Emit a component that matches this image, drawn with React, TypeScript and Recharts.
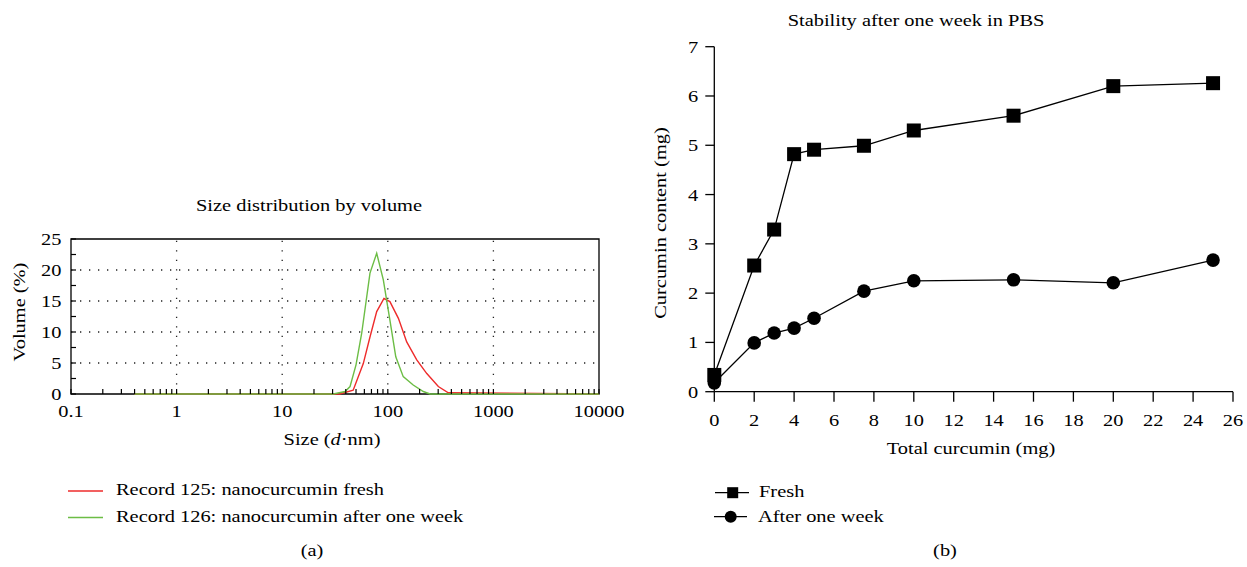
import React from 'react';
import { LineChart, Line, XAxis, YAxis, ReferenceLine, ReferenceArea } from 'recharts';

const FONT = '"Liberation Serif", "Times New Roman", serif';
const STRETCH = 1.2; // the figure's type is set wide

// (a) size distribution by volume
const freshSizes = [0.4, 35, 47, 58.6, 67.8, 78.5, 92, 104.7, 126, 151, 188, 234, 301, 374, 10000];
const freshVolumes = [0, 0, 0.6, 4.9, 9.2, 13.3, 15.4, 14.9, 12.2, 8.4, 5.5, 3.3, 1.2, 0.2, 0];
const weekSizes = [0.4, 30.5, 39.4, 43.9, 50, 56.6, 67.8, 78.5, 90.7, 104.7, 119, 140, 174, 217, 251, 10000];
const weekVolumes = [0, 0, 0.4, 1.2, 4.7, 9.8, 19.5, 22.7, 18.4, 11.9, 6.0, 2.8, 1.45, 0.4, 0, 0];
const sizeTicks = [0.1, 1, 10, 100, 1000, 10000];
const sizeMinorSteps = [2, 3, 4, 5, 6, 7, 8, 9];
const sizeGrid = [1, 10, 100, 1000];
const volumeTicks = [0, 5, 10, 15, 20, 25];
const volumeMinorTicks = [2.5, 7.5, 12.5, 17.5, 22.5];
const volumeGrid = [5, 10, 15, 20];

// (b) stability after one week in PBS
const totalCurcumin = [0, 2, 3, 4, 5, 7.5, 10, 15, 20, 25];
const freshContent = [0.34, 2.56, 3.29, 4.82, 4.91, 4.99, 5.3, 5.6, 6.2, 6.26];
const weekContent = [0.18, 0.99, 1.19, 1.29, 1.49, 2.04, 2.25, 2.27, 2.21, 2.67];
const totalTicks = [0, 2, 4, 6, 8, 10, 12, 14, 16, 18, 20, 22, 24, 26];
const contentTicks = [0, 1, 2, 3, 4, 5, 6, 7];

const freshData = freshSizes.map((s, i) => ({ size: s, vol: freshVolumes[i] }));
const weekData = weekSizes.map((s, i) => ({ size: s, vol: weekVolumes[i] }));
const sizeMinorTicks = sizeTicks.slice(0, -1).flatMap((d) => sizeMinorSteps.map((m) => d * m));
const stabilityData = totalCurcumin.map((t, i) => ({ total: t, fresh: freshContent[i], week: weekContent[i] }));

function SText({ x, y, anchor, children }: any) {
  return (
    <text
      transform={`translate(${x},${y}) scale(${STRETCH},1)`}
      textAnchor={anchor}
      fontSize={17}
      fontFamily={FONT}
      fill="#000"
    >
      {children}
    </text>
  );
}

function SizeTick({ x, y, payload }: any) {
  const major = sizeTicks.includes(payload.value);
  return (
    <g>
      <line x1={x} x2={x} y1={y} y2={y - 5} stroke="#000" strokeWidth={1.2} />
      {major && <SText x={x} y={y + 22.6} anchor="middle">{payload.value}</SText>}
    </g>
  );
}

function VolumeTick({ x, y, payload }: any) {
  const major = volumeTicks.includes(payload.value);
  return (
    <g>
      <line x1={x} x2={x + 5} y1={y} y2={y} stroke="#000" strokeWidth={1.2} />
      {major && <SText x={x - 9.5} y={y + 5.6} anchor="end">{payload.value}</SText>}
    </g>
  );
}

function TotalTick({ x, y, payload }: any) {
  return <SText x={x} y={y + 24} anchor="middle">{payload.value}</SText>;
}

function ContentTick({ x, y, payload }: any) {
  return <SText x={x} y={y + 6} anchor="end">{payload.value}</SText>;
}

const SquareDot = ({ cx, cy, index }: any) => (
  <rect key={`s${index}`} x={cx - 7} y={cy - 7} width={14} height={14} fill="#000" />
);
const CircleDot = ({ cx, cy, index }: any) => <circle key={`c${index}`} cx={cx} cy={cy} r={6.8} fill="#000" />;

function Label({ x, y, rotate, left, children }: any) {
  return (
    <div
      style={{
        position: 'absolute',
        left: x,
        top: y,
        transform: `translate(${left ? '0' : '-50%'},-50%) ${rotate ? 'rotate(-90deg) ' : ''}scaleX(${STRETCH})`,
        transformOrigin: left ? 'left center' : 'center',
        whiteSpace: 'nowrap',
        fontSize: 17,
        lineHeight: '20px',
        color: '#000',
      }}
    >
      {children}
    </div>
  );
}

export default function App() {
  return (
    <div
      style={{
        position: 'absolute',
        left: 0,
        top: 0,
        width: 1247,
        height: 567,
        background: '#fff',
        fontFamily: FONT,
        overflow: 'hidden',
      }}
    >
      <div style={{ position: 'absolute', left: 0, top: 0 }}>
        <LineChart width={640} height={430} margin={{ top: 239, right: 41, bottom: 6, left: 31 }}>
          <XAxis
            dataKey="size"
            type="number"
            scale="log"
            domain={[0.1, 10000]}
            allowDataOverflow
            ticks={[...sizeTicks, ...sizeMinorTicks]}
            interval={0}
            height={30}
            axisLine={false}
            tickLine={false}
            tickSize={0}
            tickMargin={0}
            tick={<SizeTick />}
          />
          <YAxis
            type="number"
            domain={[0, 25]}
            ticks={[...volumeTicks, ...volumeMinorTicks]}
            interval={0}
            width={40}
            axisLine={false}
            tickLine={false}
            tickSize={0}
            tickMargin={0}
            tick={<VolumeTick />}
          />
          {volumeGrid.map((v) => (
            <ReferenceLine key={`h${v}`} y={v} stroke="#222" strokeWidth={1.3} strokeDasharray="1.3 7.7" />
          ))}
          {sizeGrid.map((v) => (
            <ReferenceLine key={`v${v}`} x={v} stroke="#222" strokeWidth={1.3} strokeDasharray="1.3 8.2" />
          ))}
          <ReferenceArea x1={0.1} x2={10000} y1={0} y2={25} fill="none" fillOpacity={0} stroke="#000" strokeWidth={1.3} />
          <Line data={freshData} dataKey="vol" type="linear" stroke="#ee2b2b" strokeWidth={1.4} dot={false} isAnimationActive={false} />
          <Line data={weekData} dataKey="vol" type="linear" stroke="#6cbd45" strokeWidth={1.4} dot={false} isAnimationActive={false} />
        </LineChart>
      </div>

      <Label x={309} y={206}>Size distribution by volume</Label>
      <Label x={20} y={312} rotate>Volume (%)</Label>
      <Label x={332} y={440}>
        Size (<i>d</i>·nm)
      </Label>

      <svg style={{ position: 'absolute', left: 0, top: 0 }} width={120} height={540}>
        <line x1={68} x2={103} y1={491} y2={491} stroke="#ee2b2b" strokeWidth={1.4} />
        <line x1={68} x2={103} y1={517.5} y2={517.5} stroke="#6cbd45" strokeWidth={1.4} />
      </svg>
      <Label x={116} y={490} left>Record 125: nanocurcumin fresh</Label>
      <Label x={116} y={517} left>Record 126: nanocurcumin after one week</Label>
      <Label x={312} y={551}>(a)</Label>

      <div style={{ position: 'absolute', left: 640, top: 0 }}>
        <LineChart width={607} height={440} data={stabilityData} margin={{ top: 46.7, right: 14, bottom: 8.3, left: 34.3 }}>
          <XAxis
            dataKey="total"
            type="number"
            domain={[0, 26]}
            ticks={totalTicks}
            interval={0}
            height={40}
            stroke="#000"
            axisLine={{ stroke: '#000', strokeWidth: 1.3 }}
            tickLine={{ stroke: '#000', strokeWidth: 1.3 }}
            tickSize={10}
            tickMargin={0}
            tick={<TotalTick />}
          />
          <YAxis
            type="number"
            domain={[0, 7]}
            ticks={contentTicks}
            interval={0}
            width={40}
            axisLine={{ stroke: '#000', strokeWidth: 1.3 }}
            tickLine={{ stroke: '#000', strokeWidth: 1.3 }}
            tickSize={9}
            tickMargin={7}
            tick={<ContentTick />}
          />
          <Line dataKey="week" type="linear" stroke="#000" strokeWidth={1.3} dot={<CircleDot />} isAnimationActive={false} />
          <Line dataKey="fresh" type="linear" stroke="#000" strokeWidth={1.3} dot={<SquareDot />} isAnimationActive={false} />
        </LineChart>
      </div>

      <Label x={916} y={21}>Stability after one week in PBS</Label>
      <Label x={661} y={223} rotate>Curcumin content (mg)</Label>
      <Label x={971} y={449}>Total curcumin (mg)</Label>

      <svg style={{ position: 'absolute', left: 700, top: 470 }} width={60} height={60}>
        <line x1={15} x2={49} y1={22.7} y2={22.7} stroke="#000" strokeWidth={1.3} />
        <rect x={27.2} y={17.2} width={11} height={11} fill="#000" />
        <line x1={14} x2={47} y1={46.7} y2={46.7} stroke="#000" strokeWidth={1.3} />
        <circle cx={30.7} cy={46.7} r={6} fill="#000" />
      </svg>
      <Label x={759} y={492} left>Fresh</Label>
      <Label x={758} y={516.5} left>After one week</Label>
      <Label x={945} y={551}>(b)</Label>
    </div>
  );
}
